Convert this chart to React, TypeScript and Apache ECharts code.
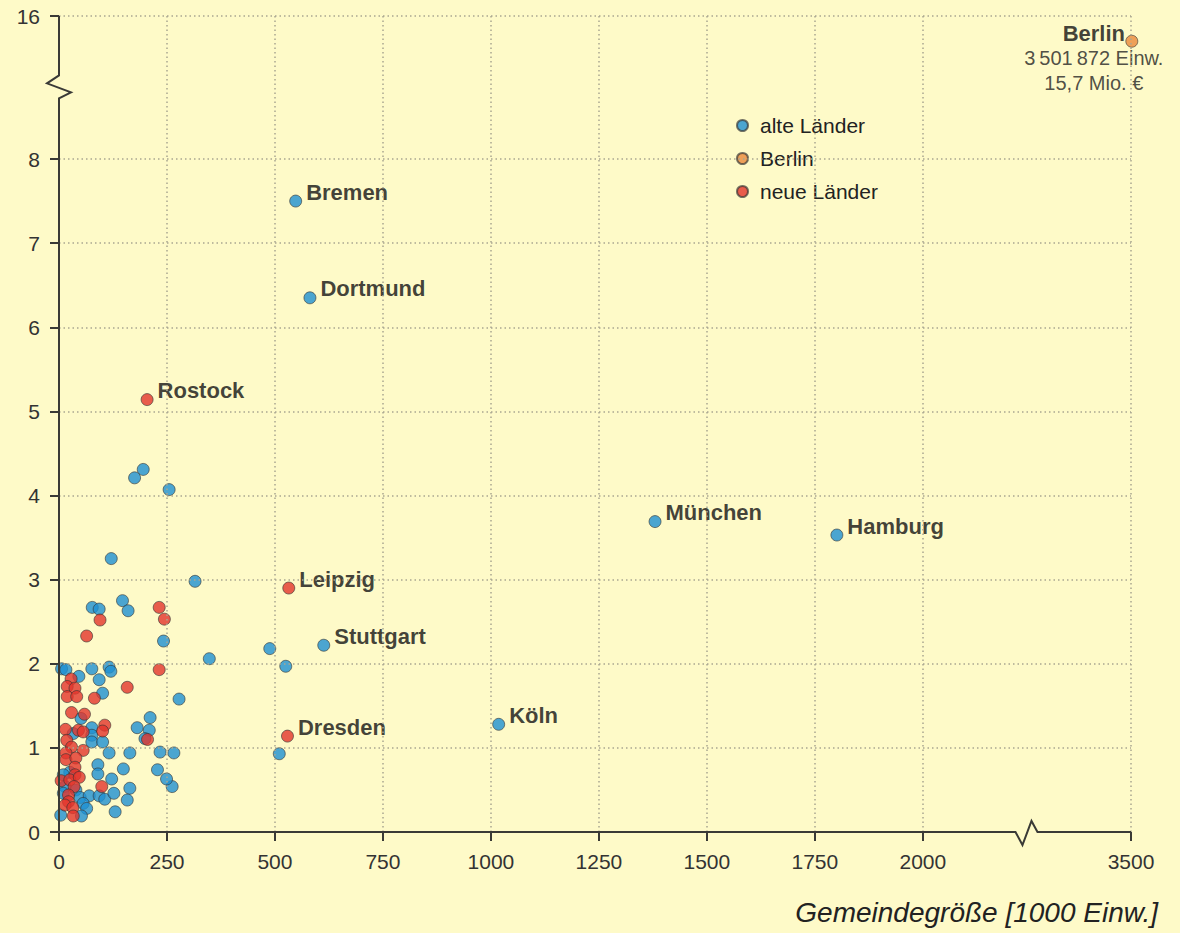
import React, { useEffect, useRef } from 'react';
import * as echarts from 'echarts';

const X_TICKS = [0, 250, 500, 750, 1000, 1250, 1500, 1750, 2000, 3500];
const Y_TICKS = [0, 1, 2, 3, 4, 5, 6, 7, 8, 16];
const X_BREAK = [2240, 3258];
const Y_BREAK = [8.84, 15.14];

const AXIS_TITLE = 'Gemeindegröße [1000 Einw.]';
const LEGEND_NAMES = ['alte Länder', 'Berlin', 'neue Länder'];

const ALTE_NAMED = [
  { name: 'Bremen', x: 548, y: 7.5 },
  { name: 'Dortmund', x: 581, y: 6.35 },
  { name: 'München', x: 1380, y: 3.69 },
  { name: 'Hamburg', x: 1801, y: 3.53 },
  { name: 'Stuttgart', x: 613, y: 2.22 },
  { name: 'Köln', x: 1018, y: 1.28 },
];

const ALTE_OTHER: [number, number][] = [
  [175, 4.21], [195, 4.31], [255, 4.07], [121, 3.25], [315, 2.98], [488, 2.18],
  [348, 2.06], [525, 1.97], [278, 1.58], [510, 0.93], [266, 0.94], [262, 0.54],
  [249, 0.63], [147, 2.75], [160, 2.63], [77, 2.67], [93, 2.65], [242, 2.27],
  [6, 1.94], [16, 1.93], [76, 1.94], [116, 1.96], [120, 1.91], [46, 1.85],
  [93, 1.81], [101, 1.65], [51, 1.35], [211, 1.36], [181, 1.24], [209, 1.21],
  [199, 1.11], [33, 1.17], [76, 1.24], [76, 1.15], [76, 1.07], [101, 1.07],
  [116, 0.94], [164, 0.94], [234, 0.95], [90, 0.8], [90, 0.69], [149, 0.75],
  [228, 0.74], [25, 0.71], [10, 0.68], [122, 0.63], [164, 0.52], [39, 0.5],
  [14, 0.54], [10, 0.46], [49, 0.41], [70, 0.43], [93, 0.43], [106, 0.39],
  [127, 0.46], [158, 0.38], [56, 0.34], [64, 0.28], [130, 0.24], [4, 0.2],
  [52, 0.19],
];

const NEUE_NAMED = [
  { name: 'Rostock', x: 204, y: 5.14 },
  { name: 'Leipzig', x: 532, y: 2.9 },
  { name: 'Dresden', x: 529, y: 1.14 },
];

const NEUE_OTHER: [number, number][] = [
  [95, 2.52], [64, 2.33], [232, 2.67], [244, 2.53], [232, 1.93], [28, 1.82],
  [158, 1.72], [19, 1.73], [37, 1.71], [19, 1.61], [41, 1.61], [82, 1.59],
  [29, 1.42], [59, 1.4], [205, 1.1], [15, 1.22], [45, 1.21], [56, 1.19],
  [106, 1.27], [101, 1.2], [18, 1.09], [29, 1.01], [56, 0.97], [16, 0.94],
  [16, 0.86], [39, 0.88], [37, 0.77], [37, 0.68], [5, 0.61], [25, 0.62],
  [47, 0.65], [99, 0.54], [35, 0.54], [22, 0.44], [22, 0.36], [14, 0.32],
  [32, 0.29], [33, 0.19],
];

const BERLIN = { name: 'Berlin', x: 3501.872, y: 15.7, einw: '3\u2009501\u2009872 Einw.', mio: '15,7 Mio. €' };

const FONT = '"Liberation Sans", Arial, Helvetica, sans-serif';
const BG = '#FEFAC8';
const BLUE = '#1E90D2';
const ORANGE = '#EA8A3C';
const RED = '#E2352C';
const AXIS = '#3a3a36';
const GRID = '#a9a690';

const itemStyle = (c: string) => ({ color: c, borderColor: 'rgba(50,50,50,0.85)', borderWidth: 0.9 });

const namedLabel = {
  show: true,
  position: 'right',
  distance: 4,
  offset: [0, -9],
  formatter: '{b}',
  fontFamily: FONT,
  fontWeight: 'bold',
  fontSize: 22,
  color: '#111',
};

export default function App() {
  const ref = useRef<HTMLDivElement>(null);
  useEffect(() => {
    document.body.style.margin = '0';
    document.body.style.overflow = 'hidden';
    const chart = echarts.init(ref.current!, undefined, { renderer: 'svg' });

    const gridMarks = [
      ...X_TICKS.filter((v) => v !== 0).map((v) => ({ xAxis: v })),
      ...Y_TICKS.filter((v) => v !== 0).map((v) => ({ yAxis: v })),
    ];

    const plain = (v: number) => String(v);

    const option: any = {
      animation: false,
      backgroundColor: BG,
      textStyle: { fontFamily: FONT },
      grid: { left: 59, right: 49, top: 16, bottom: 101, containLabel: false },
      legend: {
        data: LEGEND_NAMES,
        orient: 'vertical',
        left: 731,
        top: 110,
        icon: 'circle',
        itemWidth: 11,
        itemHeight: 11,
        itemGap: 12,
        textStyle: { fontFamily: FONT, fontSize: 21, color: '#222', padding: [0, 0, 0, 7] },
      },
      xAxis: {
        type: 'value',
        min: 0,
        max: 3500,
        breaks: [{ start: X_BREAK[0], end: X_BREAK[1], gap: 0 }],
        breakArea: { show: false },
        axisLine: { show: false },
        axisTick: { show: true, length: 9, customValues: X_TICKS, lineStyle: { color: AXIS, width: 2 } },
        axisLabel: { customValues: X_TICKS, formatter: plain, margin: 19, fontSize: 21, color: '#333', fontFamily: FONT },
        splitLine: { show: false },
      },
      yAxis: {
        type: 'value',
        min: 0,
        max: 16,
        breaks: [{ start: Y_BREAK[0], end: Y_BREAK[1], gap: 0 }],
        breakArea: { show: false },
        axisLine: { show: false },
        axisTick: { show: true, length: 9, customValues: Y_TICKS, lineStyle: { color: AXIS, width: 2 } },
        axisLabel: { customValues: Y_TICKS, formatter: plain, margin: 19, fontSize: 21, color: '#333', fontFamily: FONT },
        splitLine: { show: false },
      },
      series: [
        {
          type: 'scatter',
          data: [],
          z: 1,
          silent: true,
          markLine: {
            silent: true,
            symbol: ['none', 'none'],
            label: { show: false },
            lineStyle: { color: GRID, type: [1.5, 3], width: 1.5 },
            data: gridMarks,
          },
        },
        {
          name: 'alte Länder',
          type: 'scatter',
          symbolSize: 12,
          z: 3,
          itemStyle: itemStyle(BLUE),
          data: [
            ...ALTE_OTHER.map((p) => ({ value: p })),
            ...ALTE_NAMED.map((p) => ({ name: p.name, value: [p.x, p.y], label: namedLabel })),
          ],
        },
        {
          name: 'Berlin',
          type: 'scatter',
          symbolSize: 12,
          z: 3,
          clip: false,
          itemStyle: itemStyle(ORANGE),
          data: [
            {
              name: BERLIN.name,
              value: [BERLIN.x, BERLIN.y],
              label: {
                show: true,
                position: 'inside',
                offset: [-38, 17],
                align: 'center',
                verticalAlign: 'middle',
                formatter: `{b|${BERLIN.name}}\n{n|${BERLIN.einw}}\n{n|${BERLIN.mio}}`,
                rich: {
                  b: { fontFamily: FONT, fontWeight: 'bold', fontSize: 22, color: '#111', lineHeight: 25, align: 'center' },
                  n: { fontFamily: FONT, fontSize: 20, color: '#222', lineHeight: 25, align: 'center' },
                },
              },
            },
          ],
        },
        {
          name: 'neue Länder',
          type: 'scatter',
          symbolSize: 12,
          z: 3,
          itemStyle: itemStyle(RED),
          data: [
            ...NEUE_OTHER.map((p) => ({ value: p })),
            ...NEUE_NAMED.map((p) => ({ name: p.name, value: [p.x, p.y], label: namedLabel })),
          ],
        },
      ],
    };
    chart.setOption(option);

    const px = (v: number) => chart.convertToPixel({ xAxisIndex: 0 }, v) as number;
    const py = (v: number) => chart.convertToPixel({ yAxisIndex: 0 }, v) as number;
    const x0 = px(0);
    const xEnd = px(3500);
    const xb = (px(X_BREAK[0]) + px(X_BREAK[1])) / 2;
    const y0 = py(0);
    const yTop = py(16);
    const yb = (py(Y_BREAK[0]) + py(Y_BREAK[1])) / 2 - 1;

    const lineStyle = { stroke: AXIS, lineWidth: 2, fill: null };
    chart.setOption({
      graphic: [
        {
          type: 'polyline',
          z: 10,
          silent: true,
          shape: {
            points: [
              [x0, y0], [xb - 11, y0], [xb - 4, y0 + 13], [xb + 5, y0 - 11], [xb + 11, y0], [xEnd, y0],
            ],
          },
          style: lineStyle,
        },
        {
          type: 'polyline',
          z: 10,
          silent: true,
          shape: {
            points: [
              [x0, y0], [x0, yb + 11], [x0 + 12, yb + 5], [x0 - 12, yb - 4], [x0, yb - 12], [x0, yTop],
            ],
          },
          style: lineStyle,
        },
        {
          type: 'text',
          z: 10,
          silent: true,
          x: 1158,
          y: 912,
          style: {
            text: AXIS_TITLE,
            fill: '#222',
            fontFamily: FONT,
            fontStyle: 'italic',
            fontSize: 28,
            align: 'right',
            verticalAlign: 'middle',
          },
        },
      ],
    });

    return () => chart.dispose();
  }, []);
  return <div ref={ref} style={{ width: 1180, height: 933 }} />;
}
